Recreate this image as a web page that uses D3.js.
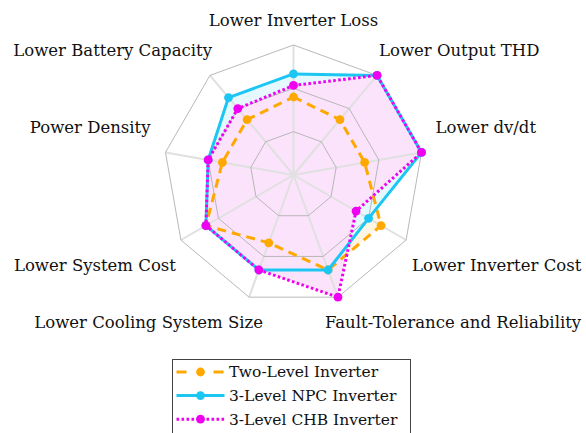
<!DOCTYPE html>
<meta charset="utf-8">
<script src="https://d3js.org/d3.v7.min.js"></script>
<style>
  body { margin: 0; background: #fff; }
  text { font-family: "DejaVu Serif", serif; fill: #111; }
</style>
<svg id="radar" width="586" height="433"></svg>
<script>

// axes, clockwise from the top
var axes = ["Lower Inverter Loss", "Lower Output THD", "Lower dv/dt", "Lower Inverter Cost",
  "Fault-Tolerance and Reliability", "Lower Cooling System Size", "Lower System Cost",
  "Power Density", "Lower Battery Capacity"];

// scores (0..9)
var twoLevel = [5.4, 5, 5, 7, 7, 5, 7, 5, 5];
var npc      = [7, 9, 9, 6, 7, 7, 7, 6, 7];
var chb      = [6.2, 9, 9, 5, 9, 7, 7, 6, 6];

var seriesNames = ["Two-Level Inverter", "3-Level NPC Inverter", "3-Level CHB Inverter"];
var gridLevels = [3, 6, 9];

var series = [
  { name: seriesNames[0], values: twoLevel, color: "#ffa800", tint: "#fff5e3", dash: "9,6", legendDash: "10,27" },
  { name: seriesNames[1], values: npc, color: "#1cc6f2", tint: "#e4f8fe", dash: null, legendDash: null },
  { name: seriesNames[2], values: chb, color: "#f000f0", tint: "#fbe4fb", dash: "2.6,2.4", legendDash: "2.6,2.4" }
];

var svg = d3.select("#radar");
var cx = 293.5, cy = 175, R = 130;

var r = d3.scaleLinear().domain([0, 9]).range([0, R]);
var angle = d3.scaleLinear().domain([0, axes.length]).range([0, 2 * Math.PI]);

var g = svg.append("g").attr("transform", "translate(" + cx + "," + cy + ")");

function pt(i, v) {
  var a = angle(i);
  return [r(v) * Math.sin(a), -r(v) * Math.cos(a)];
}

var line = d3.lineRadial()
  .angle(function(d, i) { return angle(i); })
  .radius(function(d) { return r(d); })
  .curve(d3.curveLinearClosed);

// area fills go underneath everything
g.selectAll(".area")
  .data(series)
  .enter().append("path")
    .attr("class", "area")
    .attr("d", function(d) { return line(d.values); })
    .style("fill", function(d) { return d.tint; })
    .style("stroke", "none");

// spokes
g.selectAll(".spoke")
  .data(axes)
  .enter().append("line")
    .attr("class", "spoke")
    .attr("x1", 0).attr("y1", 0)
    .attr("x2", function(d, i) { return pt(i, 9)[0]; })
    .attr("y2", function(d, i) { return pt(i, 9)[1]; })
    .style("stroke", "#e0e0e0")
    .style("stroke-width", 2);

// rings
var ringLine = d3.lineRadial()
  .angle(function(d, i) { return angle(i); })
  .curve(d3.curveLinearClosed);

g.selectAll(".ring")
  .data(gridLevels)
  .enter().append("path")
    .attr("class", "ring")
    .attr("d", function(lv) { return ringLine.radius(r(lv))(axes); })
    .style("fill", "none")
    .style("stroke", "#b0b0b0")
    .style("stroke-width", 0.9);

// series lines + markers
var sg = g.selectAll(".series")
  .data(series)
  .enter().append("g")
    .attr("class", "series");

sg.append("path")
  .attr("d", function(d) { return line(d.values); })
  .style("fill", "none")
  .style("stroke", function(d) { return d.color; })
  .style("stroke-width", 3)
  .style("stroke-dasharray", function(d) { return d.dash; })
  .style("stroke-linejoin", "round");

sg.selectAll("circle")
  .data(function(d) { return d.values.map(function(v, i) { return { v: v, i: i, color: d.color }; }); })
  .enter().append("circle")
    .attr("cx", function(d) { return pt(d.i, d.v)[0]; })
    .attr("cy", function(d) { return pt(d.i, d.v)[1]; })
    .attr("r", 4.4)
    .style("fill", function(d) { return d.color; });

// axis labels
var labelDx = [0, 2, 14, 6, -13, 14, -5, -15, 2];
g.selectAll(".label")
  .data(axes)
  .enter().append("text")
    .attr("class", "label")
    .attr("x", function(d, i) { return pt(i, 9)[0] + labelDx[i]; })
    .attr("y", function(d, i) { return pt(i, 9)[1] + (Math.cos(angle(i)) > 0 ? -25 : 25); })
    .attr("dy", "0.35em")
    .attr("text-anchor", function(d, i) {
      var s = Math.sin(angle(i));
      return s > 0.1 ? "start" : (s < -0.1 ? "end" : "middle");
    })
    .style("font-size", "16.5px")
    .text(function(d) { return d; });

// legend
var lg = svg.append("g").attr("transform", "translate(172.5,359.5)");
lg.append("rect")
  .attr("width", 238).attr("height", 85)
  .style("fill", "#fff")
  .style("stroke", "#444")
  .style("stroke-width", 1);

var item = lg.selectAll(".item")
  .data(series)
  .enter().append("g")
    .attr("class", "item")
    .attr("transform", function(d, i) { return "translate(0," + (12.5 + i * 23.6) + ")"; });

item.append("line")
  .attr("x1", 4).attr("x2", 52)
  .style("stroke", function(d) { return d.color; })
  .style("stroke-width", 3)
  .style("stroke-dasharray", function(d) { return d.legendDash; });

item.append("circle")
  .attr("cx", 28).attr("r", 4.4)
  .style("fill", function(d) { return d.color; });

item.append("text")
  .attr("x", 56.5)
  .attr("dy", "0.35em")
  .style("font-size", "15.5px")
  .text(function(d) { return d.name; });

</script>
